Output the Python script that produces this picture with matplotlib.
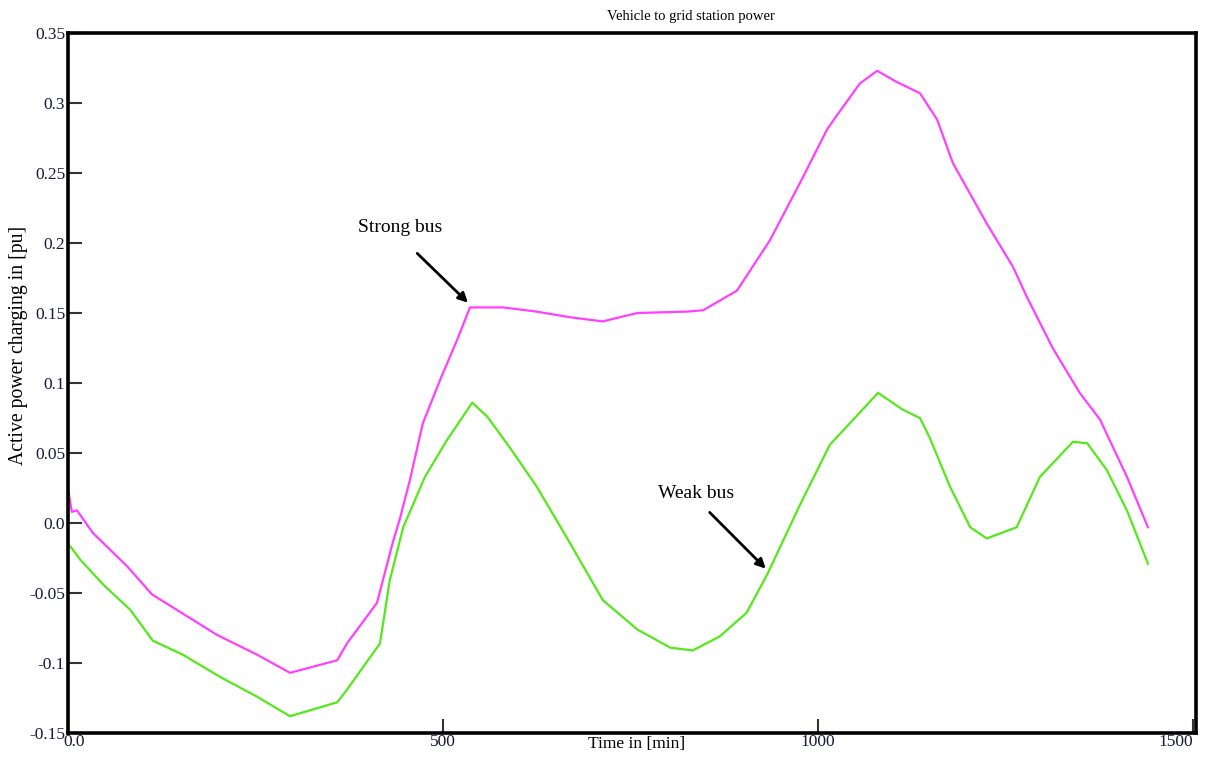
import matplotlib
matplotlib.use('Agg')
import matplotlib.pyplot as plt
from matplotlib.transforms import ScaledTranslation

# strong bus (magenta)
strong_t = [0, 5, 12, 33, 79, 112, 145, 199, 252, 296, 359, 372, 412, 433, 443, 456, 473,
            496, 519, 536, 580, 625, 669, 713, 759, 825, 847, 892, 936, 980, 1012, 1025,
            1056, 1079, 1105, 1136, 1159, 1180, 1225, 1260, 1279, 1313, 1349, 1376, 1412, 1440]
strong_p = [0.025, 0.008, 0.009, -0.007, -0.031, -0.051, -0.062, -0.080, -0.094, -0.107,
            -0.098, -0.086, -0.057, -0.014, 0.004, 0.031, 0.071, 0.102, 0.131, 0.154,
            0.154, 0.151, 0.147, 0.144, 0.150, 0.151, 0.152, 0.166, 0.202, 0.247, 0.281,
            0.291, 0.314, 0.323, 0.315, 0.307, 0.288, 0.257, 0.214, 0.183, 0.161, 0.125,
            0.093, 0.074, 0.033, -0.003]

# weak bus (green)
weak_t = [0, 5, 16, 47, 83, 113, 153, 203, 252, 296, 359, 372, 416, 429, 447, 476, 505,
          539, 559, 589, 625, 669, 713, 759, 803, 833, 869, 905, 933, 976, 1016, 1056,
          1080, 1113, 1136, 1149, 1176, 1203, 1225, 1265, 1296, 1340, 1359, 1385, 1412, 1440]
weak_p = [-0.015, -0.018, -0.026, -0.044, -0.062, -0.084, -0.094, -0.110, -0.124, -0.138,
          -0.128, -0.119, -0.086, -0.041, -0.003, 0.033, 0.059, 0.086, 0.076, 0.054,
          0.026, -0.014, -0.055, -0.076, -0.089, -0.091, -0.081, -0.064, -0.036, 0.013,
          0.056, 0.079, 0.093, 0.081, 0.075, 0.061, 0.026, -0.003, -0.011, -0.003, 0.033,
          0.058, 0.057, 0.038, 0.009, -0.029]

yticks = [0.35, 0.3, 0.25, 0.2, 0.15, 0.1, 0.05, 0.0, -0.05, -0.1, -0.15]
ytick_labels = ['0.35', '0.3', '0.25', '0.2', '0.15', '0.1', '0.05', '0.0', '-0.05', '-0.1', '-0.15']
xticks = [0, 500, 1000, 1500]
xtick_labels = ['0.0', '500', '1000', '1500']

plt.rcParams['font.family'] = ['Liberation Serif', 'DejaVu Serif']
txt_col = '#1a1a3a'

fig = plt.figure(figsize=(12.08, 7.62), dpi=100)
ax = fig.add_axes([0.0563, 0.038, 0.9337, 0.9187])

ax.plot(strong_t, strong_p, color='#ff40ff', lw=1.6)
ax.plot(weak_t, weak_p, color='#55e81a', lw=1.6)

ax.set_xlim(0, 1504)
ax.set_ylim(-0.15, 0.35)

ax.set_yticks(yticks)
ax.set_yticklabels(ytick_labels)
ax.set_xticks(xticks)
ax.set_xticklabels(xtick_labels)
ax.tick_params(direction='in', length=10, width=1.5, color='#333333',
               labelsize=12.5, labelcolor=txt_col, pad=2)
ax.tick_params(axis='x', pad=1)
for lab in ax.get_xticklabels():
    if lab.get_text() == '0.0':
        lab.set_ha('left')
        lab.set_transform(lab.get_transform() + ScaledTranslation(-0.05, 0, fig.dpi_scale_trans))
    elif lab.get_text() == '1500':
        lab.set_ha('right')

for s in ax.spines.values():
    s.set_linewidth(2.6)
    s.set_color('black')

# title sits right of centre in the original
fig.text(0.572, 0.978, 'Vehicle to grid station power', fontsize=10.5,
         ha='center', va='center', color='black')
ax.set_xlabel('Time in [min]', fontsize=12.5, color='black')
ax.xaxis.set_label_coords(0.504, -0.004)
ax.xaxis.label.set_va('top')
ax.set_ylabel('Active power charging in [pu]', fontsize=14.2, color='black')
ax.yaxis.set_label_coords(-0.0355, 0.554)

# annotations
ax.text(443, 0.211, 'Strong bus', fontsize=14, ha='center', va='center')
ax.annotate('', xy=(536, 0.156), xytext=(463, 0.194),
            arrowprops=dict(arrowstyle='-|>', color='black', lw=2, mutation_scale=14))
ax.text(837, 0.021, 'Weak bus', fontsize=14, ha='center', va='center')
ax.annotate('', xy=(933, -0.034), xytext=(853, 0.009),
            arrowprops=dict(arrowstyle='-|>', color='black', lw=2, mutation_scale=14))

fig.savefig('out.png', dpi=100)
